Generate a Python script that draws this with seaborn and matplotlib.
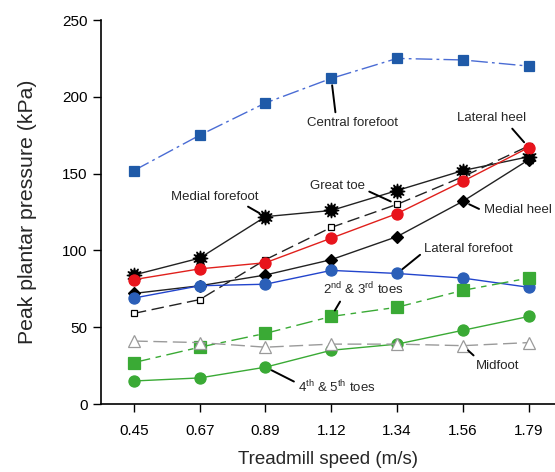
import matplotlib
matplotlib.use("Agg")
import matplotlib.pyplot as plt
import seaborn as sns
import pandas as pd

# Treadmill speeds (m/s) and peak plantar pressures (kPa) per foot region
speeds = ["0.45", "0.67", "0.89", "1.12", "1.34", "1.56", "1.79"]
central_forefoot = [152, 175, 196, 212, 225, 224, 220]
medial_forefoot = [84, 95, 122, 126, 139, 152, 161]
great_toe = [59, 68, 94, 115, 130, 148, 168]
lateral_heel = [81, 88, 92, 108, 124, 145, 167]
medial_heel = [72, 77, 84, 94, 109, 132, 159]
lateral_forefoot = [69, 77, 78, 87, 85, 82, 76]
toes_2_3 = [27, 37, 46, 57, 63, 74, 82]
toes_4_5 = [15, 17, 24, 35, 39, 48, 57]
midfoot = [41, 40, 37, 39, 39, 38, 40]

sns.set_style("ticks")
plt.rcParams["font.family"] = ["Liberation Sans", "DejaVu Sans"]
plt.rcParams["mathtext.default"] = "regular"

fig = plt.figure(figsize=(5.55, 4.72), dpi=100)
ax = fig.add_axes([0.182, 0.144, 0.818, 0.8136])

series = [
    # values, color, marker, marker face, marker edge, size, line style
    (central_forefoot, "#4a6cd4", "s", "#1f5aa8", "#1f5aa8", 7, (0, (12, 3, 2, 3))),
    (medial_forefoot, "#222222", (12, 1, 0), "black", "black", 11, "-"),
    (great_toe, "#222222", "s", "white", "black", 5, (0, (9, 4))),
    (lateral_heel, "#e0201c", "o", "#e8141c", "#e8141c", 8, "-"),
    (medial_heel, "#222222", "D", "black", "black", 6, "-"),
    (lateral_forefoot, "#2244cc", "o", "#2b5fb8", "#2b5fb8", 8, "-"),
    (toes_2_3, "#3aaa35", "s", "#3aaa35", "#3aaa35", 8, (0, (12, 4, 4, 4))),
    (toes_4_5, "#3aaa35", "o", "#3aaa35", "#3aaa35", 8, "-"),
    (midfoot, "#9a9a9a", "^", "white", "#9a9a9a", 8, (0, (10, 4))),
]

for values, color, marker, mfc, mec, ms, ls in series:
    df = pd.DataFrame({"speed": speeds, "pressure": values})
    sns.lineplot(data=df, x="speed", y="pressure", ax=ax, color=color,
                 linewidth=1.0, linestyle=ls, marker=marker,
                 markerfacecolor=mfc, markeredgecolor=mec,
                 markeredgewidth=0.9, markersize=ms, sort=False)

ax.set_ylim(0, 250)
ax.set_yticks([0, 50, 100, 150, 200, 250])
ax.set_xlim(-0.5, 6.4)
ax.set_xlabel("Treadmill speed (m/s)", fontsize=13.5, labelpad=9)
ax.set_ylabel("Peak plantar pressure (kPa)", fontsize=15.3, labelpad=18)
ax.tick_params(axis="both", labelsize=11, length=6, width=1.0, direction="out",
               colors="black")
ax.tick_params(axis="x", pad=8.5)
for side in ("top", "right"):
    ax.spines[side].set_visible(False)
for side in ("left", "bottom"):
    ax.spines[side].set_linewidth(1.2)
    ax.spines[side].set_color("black")

# Region labels with leader lines
labels = [
    ("Central forefoot", central_forefoot, 3, (3.32, 183), (0.32, 1.0)),
    ("Lateral heel", lateral_heel, 6, (5.43, 186), (0.75, 0.0)),
    ("Great toe", great_toe, 4, (3.09, 142), (1.0, 0.2)),
    ("Medial heel", medial_heel, 5, (5.83, 126), (0.0, 0.45)),
    ("Medial forefoot", medial_forefoot, 2, (1.23, 135), (0.8, 0.0)),
    ("Lateral forefoot", lateral_forefoot, 4, (5.09, 101), (0.0, 0.3)),
    (r"2$^{nd}$ & 3$^{rd}$ toes", toes_2_3, 3, (3.48, 75), (0.25, 0.0)),
    ("Midfoot", midfoot, 5, (5.53, 25), (0.05, 1.0)),
    (r"4$^{th}$ & 5$^{th}$ toes", toes_4_5, 2, (3.09, 11), (0.0, 0.7)),
]
for text, values, idx, pos, rel in labels:
    ax.annotate(text, xy=(idx, values[idx]), xytext=pos,
                ha="center", va="center", fontsize=9.5,
                arrowprops=dict(arrowstyle="-", color="black", lw=1.4,
                                shrinkA=1, shrinkB=5, relpos=rel))

fig.savefig("out.png", dpi=100)
